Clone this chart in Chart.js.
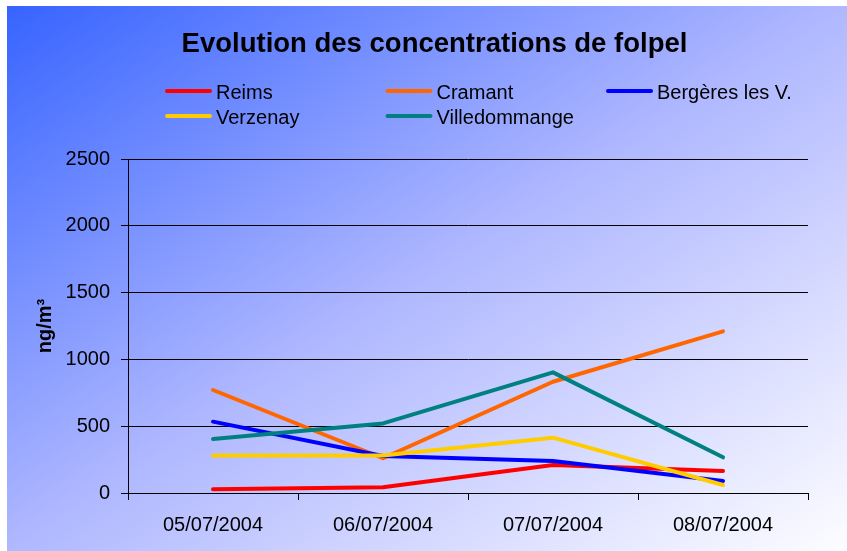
<!DOCTYPE html>
<html>
<head>
<meta charset="utf-8">
<script src="https://cdn.jsdelivr.net/npm/chart.js@4"></script>
<style>
  html, body { margin: 0; padding: 0; background: #ffffff; }
  #wrap { width: 847px; height: 551px; }
</style>
</head>
<body>
<div id="wrap"><canvas id="c" width="847" height="551"></canvas></div>
<script>
// ---- Data ----
const categories = ['05/07/2004', '06/07/2004', '07/07/2004', '08/07/2004'];
const seriesNames = ['Reims', 'Cramant', 'Bergères les V.', 'Verzenay', 'Villedommange'];
const reims = [28, 43, 210, 165];
const cramant = [771, 260, 833, 1210];
const bergeres = [534, 277, 240, 90];
const verzenay = [280, 280, 414, 60];
const villedommange = [404, 521, 903, 267];
const yTicks = [0, 500, 1000, 1500, 2000, 2500];
const yTickLabels = ['0', '500', '1000', '1500', '2000', '2500'];
const chartTitle = 'Evolution des concentrations de folpel';

const seriesValues = [reims, cramant, bergeres, verzenay, villedommange];
const seriesColors = ['#ff0000', '#ff6600', '#0000ff', '#ffcc00', '#008080'];

Chart.defaults.font.family = '"Liberation Sans", Arial, sans-serif';
Chart.defaults.color = '#000000';

const bgPlugin = {
  id: 'bgGradient',
  beforeDraw(chart) {
    const ctx = chart.ctx;
    const x0 = 7, y0 = 6, w = chart.width - x0, h = chart.height - y0;
    const k = (2 * w * h) / (w * w + h * h);
    const g = ctx.createLinearGradient(x0, y0, x0 + h * k, y0 + w * k);
    g.addColorStop(0, 'rgb(55,100,255)');
    g.addColorStop(0.5, 'rgb(176,184,255)');
    g.addColorStop(1, 'rgb(253,253,255)');
    ctx.save();
    ctx.fillStyle = '#ffffff';
    ctx.fillRect(0, 0, chart.width, chart.height);
    ctx.fillStyle = g;
    ctx.fillRect(x0, y0, w, h);
    ctx.restore();
  }
};

const headerPlugin = {
  id: 'header',
  afterDraw(chart) {
    const ctx = chart.ctx;
    ctx.save();
    // title
    ctx.fillStyle = '#000000';
    ctx.font = 'bold 27.5px "Liberation Sans", Arial, sans-serif';
    ctx.textAlign = 'center';
    ctx.textBaseline = 'alphabetic';
    ctx.fillText(chartTitle, 434.5, 52);
    // legend in a 3-column grid
    chart.data.datasets.forEach((ds, i) => {
      const col = i % 3, row = Math.floor(i / 3);
      const lx = 167 + col * 220.5;
      const baseY = 99 + row * 25;
      const ly = 91 + row * 25;
      ctx.strokeStyle = ds.borderColor;
      ctx.lineWidth = 4;
      ctx.lineCap = 'round';
      ctx.beginPath();
      ctx.moveTo(lx, ly);
      ctx.lineTo(lx + 43, ly);
      ctx.stroke();
      ctx.fillStyle = '#000000';
      ctx.font = '20px "Liberation Sans", Arial, sans-serif';
      ctx.textAlign = 'left';
      ctx.fillText(ds.label, lx + 49, baseY);
    });
    ctx.restore();
  }
};

new Chart(document.getElementById('c'), {
  type: 'line',
  data: {
    labels: categories,
    datasets: seriesNames.map((name, i) => ({
      label: name,
      data: seriesValues[i],
      borderColor: seriesColors[i],
      backgroundColor: seriesColors[i],
      borderWidth: 4,
      pointRadius: 0,
      pointHoverRadius: 0,
      tension: 0,
      fill: false,
      borderCapStyle: 'round',
      borderJoinStyle: 'round',
      order: seriesNames.length - i
    }))
  },
  options: {
    responsive: false,
    animation: false,
    devicePixelRatio: 1,
    layout: { padding: { top: 159, left: 0, right: 39, bottom: 0 } },
    plugins: {
      legend: { display: false },
      tooltip: { enabled: false },
      title: { display: false }
    },
    scales: {
      x: {
        type: 'category',
        offset: true,
        grid: {
          display: true,
          offset: true,
          drawOnChartArea: false,
          drawTicks: true,
          tickLength: 7,
          color: '#000000',
          lineWidth: 1
        },
        border: { display: true, color: '#000000', width: 1 },
        ticks: { font: { size: 20 }, color: '#000000', padding: 13, maxRotation: 0, autoSkip: false },
        afterFit(scale) { scale.height = 58; }
      },
      y: {
        min: 0,
        max: 2500,
        afterBuildTicks(scale) { scale.ticks = yTicks.map(v => ({ value: v })); },
        grid: {
          color: '#000000',
          lineWidth: 1,
          drawTicks: true,
          tickLength: 7
        },
        border: { display: true, color: '#000000', width: 1 },
        ticks: {
          font: { size: 20 },
          color: '#000000',
          padding: 11,
          callback(value) {
            const idx = yTicks.indexOf(value);
            return idx >= 0 ? yTickLabels[idx] : String(value);
          }
        },
        title: {
          display: true,
          text: 'ng/m³',
          color: '#000000',
          font: { size: 20, weight: 'bold' },
          padding: { top: 33, bottom: 0 }
        },
        afterFit(scale) { scale.width = 128; }
      }
    }
  },
  plugins: [bgPlugin, headerPlugin]
});
</script>
</body>
</html>
